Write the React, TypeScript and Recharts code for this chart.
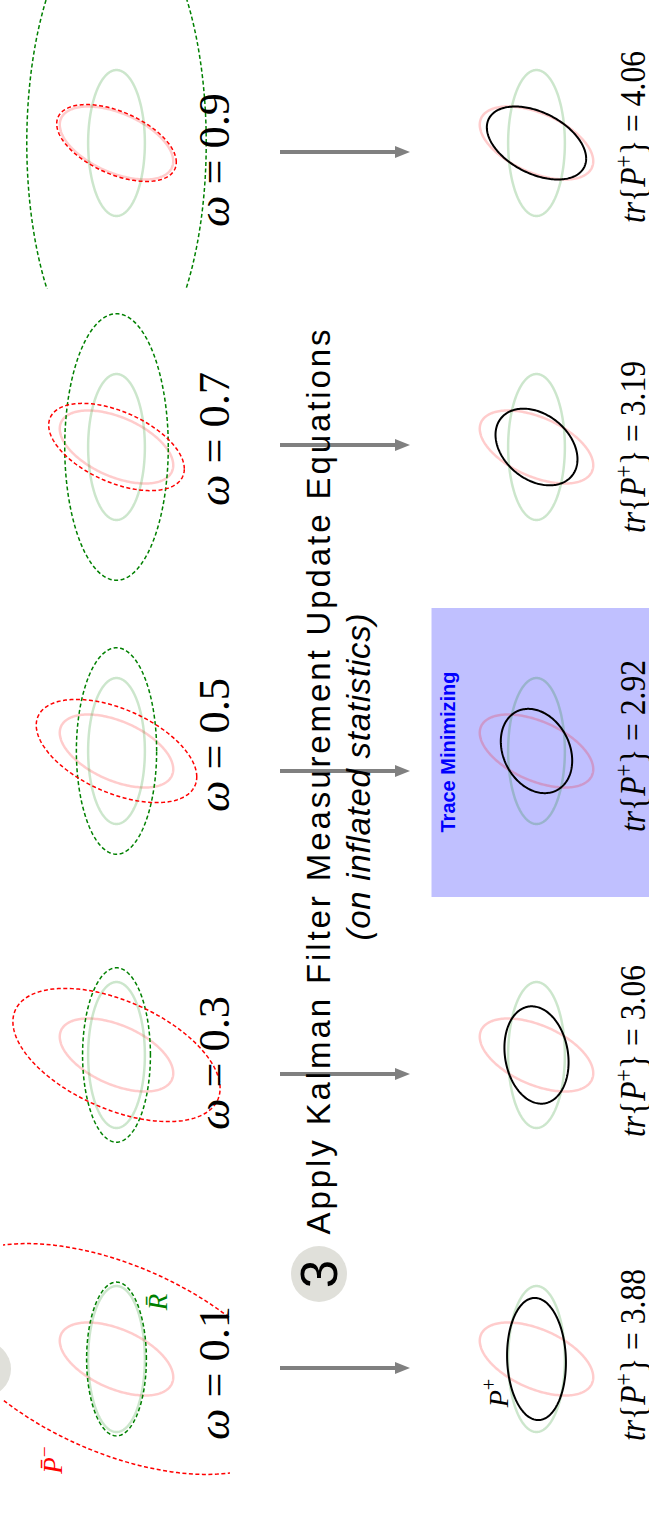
import React from "react";
import { ComposedChart, Line, Scatter, XAxis, YAxis, ReferenceArea } from "recharts";

// weights used for the covariance inflation, one per column
const OMEGAS = [0.1, 0.3, 0.5, 0.7, 0.9];
const TRACES = ["3.88", "3.06", "2.92", "3.19", "4.06"];

// covariances as [xx, xy, yy]
const P_PRIOR = [4, -1, 1];
const R_MEAS = [1, 0, 4];
const P_INFLATED = [
  [40, -10, 10],
  [13.33, -3.33, 3.33],
  [8, -2, 2],
  [5.71, -1.43, 1.43],
  [4.44, -1.11, 1.11],
];
const R_INFLATED = [
  [1.11, 0, 4.44],
  [1.43, 0, 5.71],
  [2, 0, 8],
  [3.33, 0, 13.33],
  [10, 0, 40],
];
const P_POST = [
  [1.075, -0.1, 2.8],
  [1.278, -0.222, 1.778],
  [1.583, -0.333, 1.333],
  [2.086, -0.483, 1.103],
  [3.063, -0.75, 1.0],
];
const BEST = 2; // trace minimizing column

const TITLE = "Apply Kalman Filter Measurement Update Equations";
const SUBTITLE = "(on inflated statistics)";

// layout (page pixels)
const PANEL_TOPS = [1213, 909, 605, 301, -3];
const LEFT_X = 3;
const RIGHT_X = 423;
const PANEL_W = 228;
const PANEL_H = 293;
const ARROW_ROWS = [1368, 1074, 771, 445, 152];
const OMEGA_Y = [1373, 1063, 745, 439, 160];
const TRACE_Y = [1355, 1051, 746, 447, 137];

const SERIF = "Liberation Serif";
const SANS = "Liberation Sans";
const SPINE = "#b4b4b4";

const ellipse = ([xx, xy, yy]: number[], n = 200) => {
  const sx = Math.sqrt(xx);
  const k = xy / sx;
  const sy = Math.sqrt(yy - k * k);
  return Array.from({ length: n + 1 }, (_, i) => {
    const t = (2 * Math.PI * i) / n;
    return { x: sx * Math.cos(t), y: k * Math.cos(t) + sy * Math.sin(t) };
  });
};

const priorPts = ellipse(P_PRIOR);
const measPts = ellipse(R_MEAS);

function Panel({ left, top, idx, after }: { left: number; top: number; idx: number; after: boolean }) {
  return (
    <div style={{ position: "absolute", left, top }}>
      <ComposedChart width={PANEL_W} height={PANEL_H} margin={{ top: 0, right: 1, bottom: 1, left: 0 }}>
        <XAxis
          type="number"
          dataKey="x"
          domain={[-4, 4]}
          allowDataOverflow
          height={0}
          tick={false}
          tickLine={false}
          axisLine={{ stroke: SPINE, strokeWidth: 1.5 }}
        />
        <YAxis
          type="number"
          dataKey="y"
          domain={[-4, 4]}
          allowDataOverflow
          orientation="right"
          width={0}
          tick={false}
          tickLine={false}
          axisLine={{ stroke: SPINE, strokeWidth: 1.5 }}
        />
        {after && idx === BEST && (
          <ReferenceArea x1={-3.7} x2={4} y1={-4} y2={3.92} fill="#c0c0ff" fillOpacity={1} stroke="none" ifOverflow="hidden" />
        )}
        <Line data={priorPts} dataKey="y" stroke="#ff0000" strokeOpacity={0.2} strokeWidth={2.5} dot={false} isAnimationActive={false} />
        <Line data={measPts} dataKey="y" stroke="#008000" strokeOpacity={0.2} strokeWidth={2.5} dot={false} isAnimationActive={false} />
        {!after && (
          <Line data={ellipse(R_INFLATED[idx])} dataKey="y" stroke="#008000" strokeWidth={1.5} strokeDasharray="4 2.5" dot={false} isAnimationActive={false} />
        )}
        {!after && (
          <Line data={ellipse(P_INFLATED[idx])} dataKey="y" stroke="#ff0000" strokeWidth={1.5} strokeDasharray="4 2.5" dot={false} isAnimationActive={false} />
        )}
        {after && (
          <Line data={ellipse(P_POST[idx])} dataKey="y" stroke="#000000" strokeWidth={2} dot={false} isAnimationActive={false} />
        )}
      </ComposedChart>
    </div>
  );
}

const rot = (cx: number, cy: number) => `rotate(-90 ${cx} ${cy})`;

const OmegaLabel = (p: any) => (
  <text x={p.cx} y={p.cy} transform={rot(p.cx, p.cy)} textAnchor="middle" style={{ fontFamily: SERIF }} fontSize={45} fill="#000" textLength={134} lengthAdjust="spacingAndGlyphs">
    <tspan fontStyle="italic">ω</tspan>
    {` = ${p.payload.w}`}
  </text>
);

const TraceLabel = (p: any) => (
  <text x={p.cx} y={p.cy} transform={rot(p.cx, p.cy)} textAnchor="middle" style={{ fontFamily: SERIF }} fontSize={36} fill="#000" textLength={172} lengthAdjust="spacingAndGlyphs">
    <tspan fontStyle="italic">tr</tspan>
    <tspan>{"{"}</tspan>
    <tspan fontStyle="italic">P</tspan>
    <tspan dy={-13} fontSize={25}>+</tspan>
    <tspan dy={13}>{`} = ${p.payload.t}`}</tspan>
  </text>
);

const TitleText = (p: any) => (
  <text x={p.cx} y={p.cy} transform={rot(p.cx, p.cy)} textAnchor="middle" style={{ fontFamily: SANS }} fontSize={33} fill="#000" textLength={p.payload.len} fontStyle={p.payload.italic ? "italic" : "normal"}>
    {p.payload.text}
  </text>
);

const Badge = (p: any) => (
  <g>
    <circle cx={p.cx} cy={p.cy} r={28} fill="#e0e0da" />
    {p.payload.n && (
      <text x={p.cx + 18} y={p.cy} transform={rot(p.cx + 18, p.cy)} textAnchor="middle" style={{ fontFamily: SANS }} fontSize={51} fill="#000">
        {p.payload.n}
      </text>
    )}
  </g>
);

const ArrowHead = (p: any) => (
  <polygon points={`${p.cx},${p.cy} ${p.cx - 15},${p.cy - 6} ${p.cx - 15},${p.cy + 6}`} fill="#808080" />
);

const MathLabel = (p: any) => {
  const d = p.payload;
  return (
    <text x={p.cx} y={p.cy} transform={rot(p.cx, p.cy)} textAnchor="middle" style={{ fontFamily: SERIF }} fontSize={d.size} fill={d.color}>
      <tspan fontStyle="italic">{d.base}</tspan>
      {d.sup && (
        <tspan dy={-d.size * 0.42} fontSize={d.size * 0.72}>
          {d.sup}
        </tspan>
      )}
    </text>
  );
};

const TrapText = (p: any) => (
  <text x={p.cx} y={p.cy} transform={rot(p.cx, p.cy)} textAnchor="middle" style={{ fontFamily: SANS }} fontWeight="bold" fontSize={20} fill="#0000ff" textLength={161} lengthAdjust="spacingAndGlyphs">
    Trace Minimizing
  </text>
);

export default function App() {
  const omegaData = OMEGAS.map((w, i) => ({ x: 229, y: OMEGA_Y[i], w }));
  const traceData = TRACES.map((t, i) => ({ x: 645, y: TRACE_Y[i], t }));
  const titleData = [
    { x: 330, y: 782, text: TITLE, len: 905, italic: false },
    { x: 370, y: 777, text: SUBTITLE, len: 327, italic: true },
  ];
  const badges = [
    { x: 319, y: 1274, n: "3" },
    { x: -17, y: 1369, n: "" },
  ];
  const labels = [
    { x: 62, y: 1460, base: "P\u0304", sup: "\u2212", size: 27, color: "#ff0000" },
    { x: 167, y: 1302, base: "R\u0304", sup: "", size: 27, color: "#008000" },
    { x: 508, y: 1393, base: "P", sup: "+", size: 28, color: "#000000" },
  ];
  return (
    <div style={{ position: "absolute", left: 0, top: 0, width: 649, height: 1513, overflow: "hidden", background: "#fff" }}>
      {OMEGAS.map((w, i) => (
        <Panel key={`b${w}`} left={LEFT_X} top={PANEL_TOPS[i]} idx={i} after={false} />
      ))}
      {OMEGAS.map((w, i) => (
        <Panel key={`a${w}`} left={RIGHT_X} top={PANEL_TOPS[i]} idx={i} after={true} />
      ))}
      <div style={{ position: "absolute", left: 0, top: 0 }}>
        <ComposedChart width={649} height={1513} margin={{ top: 0, right: 0, bottom: 0, left: 0 }}>
          <XAxis type="number" dataKey="x" domain={[0, 649]} hide allowDataOverflow />
          <YAxis type="number" dataKey="y" domain={[0, 1513]} reversed hide allowDataOverflow />
          <Scatter data={badges} shape={Badge} isAnimationActive={false} />
          {ARROW_ROWS.map((y) => (
            <Line
              key={y}
              data={[{ x: 280, y }, { x: 396, y }]}
              dataKey="y"
              stroke="#808080"
              strokeWidth={4}
              dot={false}
              isAnimationActive={false}
            />
          ))}
          <Scatter data={ARROW_ROWS.map((y) => ({ x: 410, y }))} shape={ArrowHead} isAnimationActive={false} />
          <Scatter data={titleData} shape={TitleText} isAnimationActive={false} />
          <Scatter data={omegaData} shape={OmegaLabel} isAnimationActive={false} />
          <Scatter data={traceData} shape={TraceLabel} isAnimationActive={false} />
          <Scatter data={labels} shape={MathLabel} isAnimationActive={false} />
          <Scatter data={[{ x: 455, y: 752 }]} shape={TrapText} isAnimationActive={false} />
        </ComposedChart>
      </div>
    </div>
  );
}
